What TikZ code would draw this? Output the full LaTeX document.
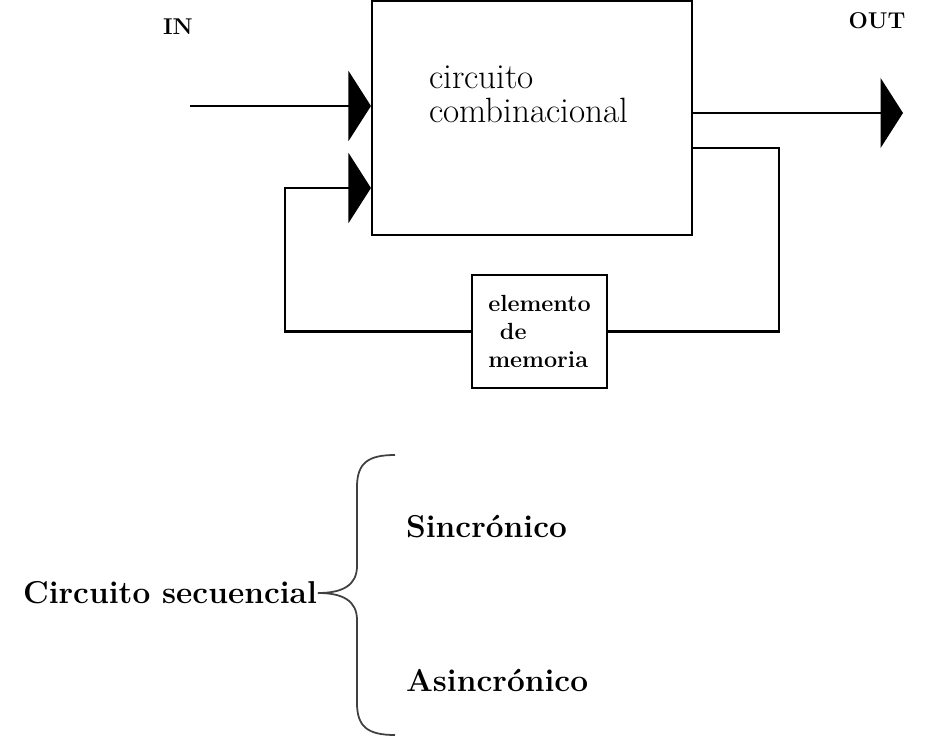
\documentclass[tikz,border=0pt]{standalone}
\usetikzlibrary{arrows.meta}
\begin{document}
\begin{tikzpicture}[x=0.02cm, y=-0.02cm, >={Triangle[length=0.45cm,width=1.4cm]}, line width=1.2pt]
    \useasboundingbox (0,0) rectangle (951,740);
    \tikzset{
        blockbox/.style={draw, inner sep=0pt},
        tag/.style={font=\fontsize{13}{15}\selectfont\bfseries, inner sep=0pt},
        bigtxt/.style={font=\fontsize{18}{20}\selectfont\bfseries, inner sep=0pt}
    }
    % bloques
    \node[blockbox, minimum width=6.4cm, minimum height=4.68cm] (comb) at (532,118) {};
    \node[anchor=west, inner sep=0pt, align=left,
          font=\fontsize{20}{19.4}\selectfont] (combtxt) at (428,94) {circuito\\combinacional};
    \node[blockbox, minimum width=2.7cm, minimum height=2.26cm, align=left,
          font=\fontsize{13.3}{15.9}\selectfont\bfseries] (mem) at (539.5,331.5) {elemento\\\hspace{0.5em}de\\memoria};
    \node[tag] (in) at (178,27) {IN};
    \node[tag] (out) at (877,21) {OUT};

    % conexiones
    \coordinate (inS) at (190,106);
    \coordinate (fbL) at (285,188);
    \coordinate (outE) at (903,113);
    \coordinate (fbR) at (779,148);
    \draw[->] (inS) -- (comb.west |- inS);
    \draw[->] (mem.west) -| (fbL) -- (comb.west |- fbL);
    \draw[->] (comb.east |- outE) -- (outE);
    \draw (comb.east |- fbR) -- (fbR) |- (mem.east);

    % clasificacion
    \node[bigtxt, anchor=east] (seq) at (318,593) {Circuito secuencial};
    \node[bigtxt, anchor=west] (sync) at (405,527) {Sincrónico};
    \node[bigtxt, anchor=west] (async) at (405,680) {Asincrónico};
    \coordinate (brT) at (395,455);
    \coordinate (brB) at (395,735);
    \draw[black!75, line width=1pt] (brT) .. controls (368,455) and (357,463) .. (357,487)
        -- (357,566) .. controls (357,585) and (343,593) .. (seq.east)
        .. controls (343,593) and (357,601) .. (357,620)
        -- (357,703) .. controls (357,727) and (368,735) .. (brB);
\end{tikzpicture}
\end{document}
